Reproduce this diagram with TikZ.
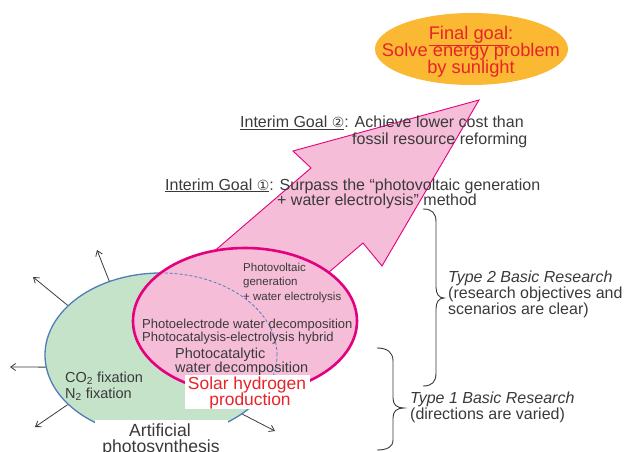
\documentclass[tikz,border=0pt]{standalone}
\usepackage{fontspec}
\setmainfont{Liberation Sans}
\newfontfamily\circfont{DejaVu Sans}
\usetikzlibrary{arrows.meta,shapes.geometric}
\definecolor{ink}{HTML}{3A3A3A}
\definecolor{leaf}{HTML}{C4E3C9}
\definecolor{leafedge}{HTML}{4F7DBA}
\definecolor{rose}{HTML}{F5BDD7}
\definecolor{magent}{HTML}{E4007F}
\definecolor{gold}{HTML}{FBB833}
\definecolor{redtext}{HTML}{E8232B}
\tikzset{
  txt/.style={inner sep=0pt, text=ink, font=\fontsize{16}{17}\selectfont},
  itxt/.style={txt, font=\fontsize{16}{17}\selectfont\itshape},
  smalltxt/.style={inner sep=0pt, text=ink, font=\fontsize{11.5}{14}\selectfont},
  midtxt/.style={inner sep=0pt, text=ink, font=\fontsize{13}{14}\selectfont},
  cattxt/.style={inner sep=0pt, text=ink, font=\fontsize{14.5}{15}\selectfont},
  redlbl/.style={inner sep=0pt, text=redtext, font=\fontsize{17.4}{17}\selectfont},
  biglbl/.style={inner sep=0pt, text=ink, font=\fontsize{17.6}{17}\selectfont},
  goaltxt/.style={inner sep=0pt, text=redtext, font=\fontsize{18.3}{18}\selectfont},
  outarrow/.style={draw=ink, line width=0.8pt, -{Straight Barb[length=5pt,width=7pt]}},
  braceline/.style={draw=ink, line width=0.9pt},
}
\begin{document}
\begin{tikzpicture}[x=1pt,y=-1pt]
\useasboundingbox (0,0) rectangle (624,452);
\clip (0,0) rectangle (624,452);

% big pink arrow
\path[fill=rose, draw=magent, line width=0.9pt]
  (190,272) -- (311,168) -- (293,151) -- (479,100) -- (382,266) -- (363,243) -- (300,297) -- cycle;

% green ellipse: artificial photosynthesis
\node[ellipse, draw=leafedge, fill=leaf, line width=1.3pt, minimum width=232pt, minimum height=164pt, inner sep=0pt] (green) at (161,355) {};

% outward arrows
\coordinate (t1) at (97,250);
\coordinate (t2) at (33,277);
\coordinate (t3) at (10,367);
\coordinate (t4) at (35,427);
\coordinate (t5) at (275,431);
\draw[outarrow] (green.125) -- (t1);
\draw[outarrow] (green.152.7) -- (t2);
\draw[outarrow] (green.186) -- (t3);
\draw[outarrow] (green.208) -- (t4);
\draw[outarrow] (green.324) -- (t5);

% pink ellipse: solar hydrogen production
\node[ellipse, fill=rose, minimum width=224pt, minimum height=146pt, inner sep=0pt] (pink) at (245,321) {};
\begin{scope}
  \clip (245,321) ellipse [x radius=110pt, y radius=71pt];
  \draw[leafedge, line width=0.8pt, dash pattern=on 3pt off 2pt] (161,355) ellipse [x radius=116pt, y radius=82pt];
\end{scope}
\node[ellipse, draw=magent, line width=2.6pt, minimum width=224pt, minimum height=146pt, inner sep=0pt] (pinkrim) at (245,321) {};

% texts inside the ellipses
\node[smalltxt, anchor=base west] (pv1) at (243,271) {Photovoltaic};
\node[smalltxt, anchor=base west] (pv2) at (243,285.5) {generation};
\node[smalltxt, anchor=base west] (pv3) at (243,300) {+ water electrolysis};
\node[midtxt, anchor=base west] (pe1) at (142,328.5) {Photoelectrode water decomposition};
\node[midtxt, anchor=base west] (pe2) at (142,341.5) {Photocatalysis-electrolysis hybrid};
\node[cattxt, anchor=base west] (pc1) at (175,358) {Photocatalytic};
\node[cattxt, anchor=base west] (pc2) at (175,372) {water decomposition};
\node[cattxt, anchor=base west] (co) at (65,382) {CO\textsubscript{2} fixation};
\node[cattxt, anchor=base west] (nn) at (65,398) {N\textsubscript{2} fixation};

% label boxes
\fill[white] (185,375) rectangle (310,409);
\node[redlbl, anchor=base] (sh1) at (247,389.5) {Solar hydrogen};
\node[redlbl, anchor=base] (sh2) at (250,405.5) {production};
\fill[white] (95,420) rectangle (228,452);
\node[biglbl, anchor=base] (ap1) at (160,436) {Artificial};
\node[biglbl, anchor=base] (ap2) at (161,452.5) {photosynthesis};

% final goal
\node[ellipse, fill=gold, minimum width=193pt, minimum height=72pt, inner sep=0pt] (goal) at (471.5,49) {};
\node[goaltxt, anchor=base] (fg1) at (471,40) {\underline{Final goal}:};
\node[goaltxt, anchor=base] (fg2) at (471,57) {Solve energy problem};
\node[goaltxt, anchor=base] (fg3) at (471,73.5) {by sunlight};

% interim goals
\node[txt, anchor=base west] (ig2a) at (240,128) {\underline{Interim Goal {\circfont\fontsize{14}{17}\selectfont ②}}: Achieve lower cost than};
\node[txt, anchor=base west] (ig2b) at (352,144) {fossil resource reforming};
\node[txt, anchor=base west] (ig1a) at (165,190) {\underline{Interim Goal {\circfont\fontsize{14}{17}\selectfont ①}}: Surpass the “photovoltaic generation};
\node[txt, anchor=base west] (ig1b) at (277,205) {+ water electrolysis” method};

% braces
\draw[braceline] (423,209) .. controls (432,209) and (436,213) .. (436,222) -- (436,287)
  .. controls (436,294) and (439,298) .. (444,298)
  .. controls (439,298) and (436,302) .. (436,309) -- (436,373)
  .. controls (436,382) and (432,386) .. (423,386);
\draw[braceline] (377,348) .. controls (387,348) and (393,352) .. (393,361) -- (393,398)
  .. controls (393,405) and (397,408) .. (404,408)
  .. controls (397,408) and (393,411) .. (393,418) -- (393,440)
  .. controls (393,447) and (387,450) .. (377,450);

% research types
\node[itxt, anchor=base west] (r2a) at (448,282) {Type 2 Basic Research};
\node[txt, anchor=base west] (r2b) at (448,298) {(research objectives and};
\node[txt, anchor=base west] (r2c) at (448,314) {scenarios are clear)};
\node[itxt, anchor=base west] (r1a) at (410,403) {Type 1 Basic Research};
\node[txt, anchor=base west] (r1b) at (410,419) {(directions are varied)};
\end{tikzpicture}
\end{document}
